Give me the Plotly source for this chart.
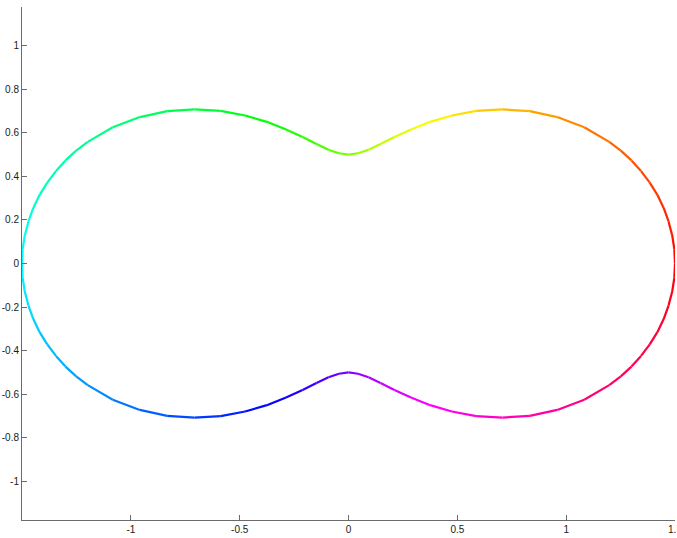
import math
import plotly.graph_objects as go

# Curve points (counter-clockwise, starting at the right tip)
x_vals = [1.500, 1.497, 1.487, 1.470, 1.448, 1.419, 1.384, 1.344, 1.300, 1.251, 1.198, 1.083, 0.959, 0.833, 0.707, 0.587, 0.475, 0.375, 0.287, 0.211, 0.147, 0.092, 0.044,
          0.000,
          -0.044, -0.092, -0.147, -0.211, -0.287, -0.375, -0.475, -0.587, -0.707, -0.833, -0.959, -1.083, -1.198, -1.251, -1.300, -1.344, -1.384, -1.419, -1.448, -1.470, -1.487, -1.497,
          -1.500,
          -1.497, -1.487, -1.470, -1.448, -1.419, -1.384, -1.344, -1.300, -1.251, -1.198, -1.083, -0.959, -0.833, -0.707, -0.587, -0.475, -0.375, -0.287, -0.211, -0.147, -0.092, -0.044,
          0.000,
          0.044, 0.092, 0.147, 0.211, 0.287, 0.375, 0.475, 0.587, 0.707, 0.833, 0.959, 1.083, 1.198, 1.251, 1.300, 1.344, 1.384, 1.419, 1.448, 1.470, 1.487, 1.497]
y_vals = [0.000, 0.065, 0.130, 0.194, 0.255, 0.315, 0.371, 0.424, 0.473, 0.518, 0.558, 0.625, 0.672, 0.699, 0.707, 0.700, 0.679, 0.650, 0.615, 0.580, 0.548, 0.522, 0.506,
          0.500,
          0.506, 0.522, 0.548, 0.580, 0.615, 0.650, 0.679, 0.700, 0.707, 0.699, 0.672, 0.625, 0.558, 0.518, 0.473, 0.424, 0.371, 0.315, 0.255, 0.194, 0.130, 0.065,
          0.000,
          -0.065, -0.130, -0.194, -0.255, -0.315, -0.371, -0.424, -0.473, -0.518, -0.558, -0.625, -0.672, -0.699, -0.707, -0.700, -0.679, -0.650, -0.615, -0.580, -0.548, -0.522, -0.506,
          -0.500,
          -0.506, -0.522, -0.548, -0.580, -0.615, -0.650, -0.679, -0.700, -0.707, -0.699, -0.672, -0.625, -0.558, -0.518, -0.473, -0.424, -0.371, -0.315, -0.255, -0.194, -0.130, -0.065]

x_ticks = [-1, -0.5, 0, 0.5, 1, 1.5]
x_tick_labels = ["-1", "-0.5", "0", "0.5", "1", "1.5"]
y_ticks = [-1, -0.8, -0.6, -0.4, -0.2, 0, 0.2, 0.4, 0.6, 0.8, 1]
y_tick_labels = ["-1", "-0.8", "-0.6", "-0.4", "-0.2", "0", "0.2", "0.4", "0.6", "0.8", "1"]

fig = go.Figure()
n = len(x_vals)
for i in range(n):
    j = (i + 1) % n
    xm = (x_vals[i] + x_vals[j]) / 2
    ym = (y_vals[i] + y_vals[j]) / 2
    hue = math.degrees(math.atan2(ym, xm)) % 360
    fig.add_trace(go.Scatter(
        x=[x_vals[i], x_vals[j]], y=[y_vals[i], y_vals[j]],
        mode="lines", cliponaxis=False,
        line=dict(color="hsl(%.1f,100%%,50%%)" % hue, width=2.2),
        showlegend=False, hoverinfo="skip"))

axis_common = dict(showgrid=False, zeroline=False, showline=True, automargin=False,
                   linecolor="#6b6b6b", linewidth=1, ticks="inside", ticklen=5,
                   tickcolor="#6b6b6b", tickwidth=1, ticklabeloverflow="allow",
                   tickfont=dict(family="Liberation Sans, Arial, sans-serif", size=10, color="#1a1a1a"))

fig.update_layout(
    width=677, height=538, autosize=False,
    margin=dict(l=22, r=2, t=7, b=18),
    paper_bgcolor="white", plot_bgcolor="white",
    xaxis=dict(range=[-1.5, 1.5], tickvals=x_ticks, ticktext=x_tick_labels, **axis_common),
    yaxis=dict(range=[-1.177, 1.177], tickvals=y_ticks, ticktext=y_tick_labels, **axis_common),
)

fig.write_html("out.html", config={"displayModeBar": False},
               post_script="document.body.style.margin='0';document.body.style.overflow='hidden';")
